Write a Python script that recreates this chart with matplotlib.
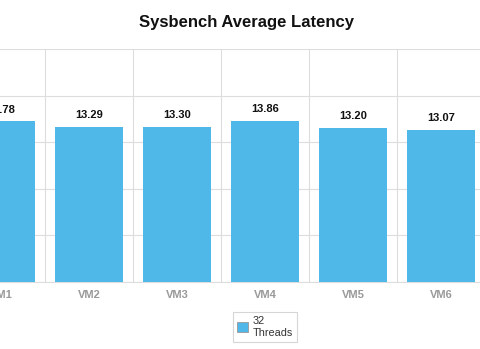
import matplotlib
matplotlib.use("Agg")
import matplotlib.pyplot as plt
from matplotlib.patches import Patch

categories = ["VM1", "VM2", "VM3", "VM4", "VM5", "VM6"]
latency = [13.78, 13.29, 13.30, 13.86, 13.20, 13.07]
series_name = "32\nThreads"
yticks = [0, 4, 8, 12, 16, 20]

plt.rcParams['font.family'] = ['Liberation Sans', 'DejaVu Sans']
W, H = 480, 349
fig = plt.figure(figsize=(W / 100, H / 100), dpi=100)

# axes extends beyond the visible image (reference is cropped)
left_px, right_px, top_px, bot_px = -43, 485, 49, 282
ax = fig.add_axes([left_px / W, (H - bot_px) / H, (right_px - left_px) / W, (bot_px - top_px) / H])

color = "#4FB8E9"
x = list(range(len(categories)))
bars = ax.bar(x, latency, width=0.773, color=color, zorder=3)
ax.set_xlim(-0.5, len(categories) - 0.5)
ax.set_ylim(0, 20)
ax.set_yticks(yticks)
ax.set_yticklabels([])
ax.tick_params(axis='y', length=0)
ax.set_xticks(x)
ax.set_xticklabels(categories, color="#999999", fontsize=8, fontweight='bold')
ax.tick_params(axis='x', length=0, pad=6)
ax.set_xticks([i + 0.5 for i in range(-1, len(categories))], minor=True)
ax.tick_params(axis='x', which='minor', length=0)
ax.grid(axis='y', color='#DDDDDD', linewidth=0.8, zorder=0)
ax.grid(axis='x', which='minor', color='#DDDDDD', linewidth=0.8, zorder=0)
ax.grid(axis='x', which='major', visible=False)
for s in ['left', 'right', 'top']:
    ax.spines[s].set_visible(False)
ax.spines['bottom'].set_color('#DDDDDD')
ax.spines['bottom'].set_linewidth(0.8)

for xi, v in zip(x, latency):
    ax.annotate(f"{v:.2f}", (xi, v), xytext=(0, 5), textcoords='offset points',
                ha='center', va='bottom', fontsize=8, fontweight='bold', color='#111111')

fig.text(247 / W, 1 - 22 / H, "Sysbench Average Latency", ha='center', va='center',
         fontsize=12, fontweight='bold', color='#111111')

handle = Patch(facecolor=color, edgecolor='#999999', linewidth=0.6)
leg = fig.legend([handle], [series_name], loc='center', bbox_to_anchor=(265 / W, 1 - 327 / H),
                 fontsize=7.8, frameon=True, fancybox=False, handlelength=1.0, handleheight=1.0,
                 handletextpad=0.4, borderpad=0.4, labelcolor='#333333')
leg.get_frame().set_edgecolor('#CCCCCC')
leg.get_frame().set_linewidth(0.8)

fig.savefig("out.png", dpi=100)
